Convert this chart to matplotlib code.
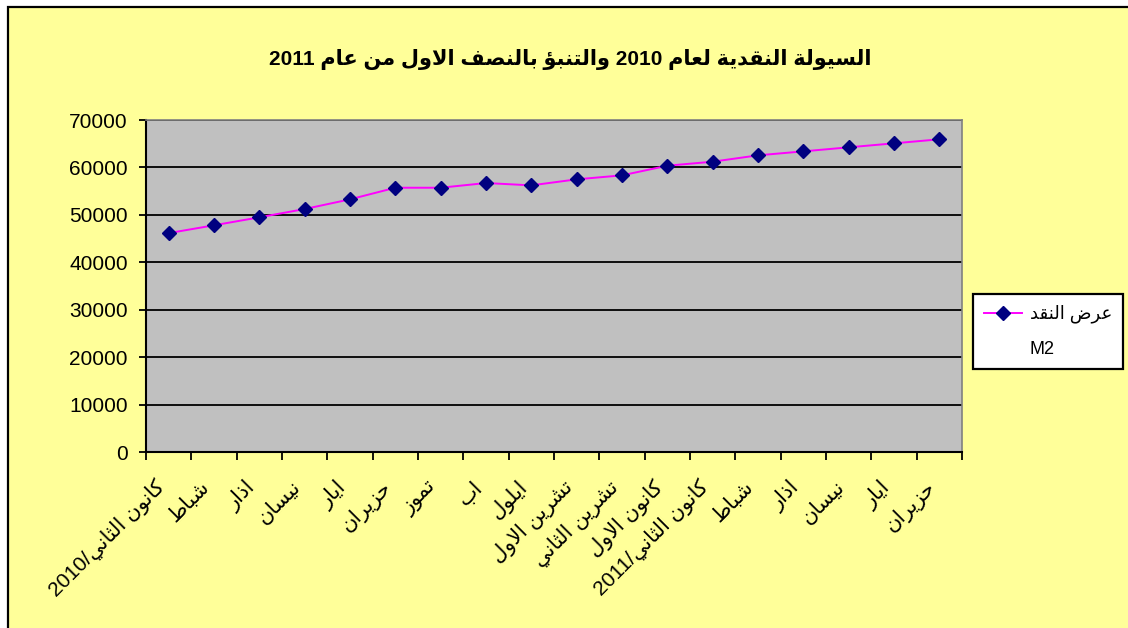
import re
import matplotlib
matplotlib.use('Agg')
import matplotlib.pyplot as plt
import matplotlib.transforms as mtransforms
from matplotlib.patches import Rectangle
from matplotlib.lines import Line2D


# chart data (logical Arabic text)
TITLE = 'السيولة النقدية لعام 2010 والتنبؤ بالنصف الاول من عام 2011'
SERIES_NAME = 'عرض النقد'
SERIES_SUFFIX = 'M2'
months = ['كانون الثاني/2010', 'شباط', 'اذار', 'نيسان', 'ايار', 'حزيران',
          'تموز', 'اب', 'ايلول', 'تشرين الاول', 'تشرين الثاني', 'كانون الاول',
          'كانون الثاني/2011', 'شباط', 'اذار', 'نيسان', 'ايار', 'حزيران']
m2 = [46150, 47800, 49480, 51230, 53270, 55720, 55720, 56710, 56220,
      57490, 58330, 60360, 61210, 62550, 63390, 64240, 65080, 65930]
y_ticks = [0, 10000, 20000, 30000, 40000, 50000, 60000, 70000]


# --- minimal arabic shaping (matplotlib has no text shaping / bidi) ---
# base codepoint in Presentation Forms-B, number of forms (2 = right joining, 4 = dual)
AR = {
    'ء': (0xFE80, 1), 'آ': (0xFE81, 2), 'أ': (0xFE83, 2), 'ؤ': (0xFE85, 2),
    'إ': (0xFE87, 2), 'ئ': (0xFE89, 4), 'ا': (0xFE8D, 2), 'ب': (0xFE8F, 4),
    'ة': (0xFE93, 2), 'ت': (0xFE95, 4), 'ث': (0xFE99, 4), 'ج': (0xFE9D, 4),
    'ح': (0xFEA1, 4), 'خ': (0xFEA5, 4), 'د': (0xFEA9, 2), 'ذ': (0xFEAB, 2),
    'ر': (0xFEAD, 2), 'ز': (0xFEAF, 2), 'س': (0xFEB1, 4), 'ش': (0xFEB5, 4),
    'ص': (0xFEB9, 4), 'ض': (0xFEBD, 4), 'ط': (0xFEC1, 4), 'ظ': (0xFEC5, 4),
    'ع': (0xFEC9, 4), 'غ': (0xFECD, 4), 'ف': (0xFED1, 4), 'ق': (0xFED5, 4),
    'ك': (0xFED9, 4), 'ل': (0xFEDD, 4), 'م': (0xFEE1, 4), 'ن': (0xFEE5, 4),
    'ه': (0xFEE9, 4), 'و': (0xFEED, 2), 'ى': (0xFEEF, 2), 'ي': (0xFEF1, 4),
}
LAM_ALEF = {'ا': 0xFEFB, 'أ': 0xFEF7, 'إ': 0xFEF9, 'آ': 0xFEF5}


def shape(text):
    out = []
    prev_dual = False
    i = 0
    while i < len(text):
        c = text[i]
        nxt = text[i + 1] if i + 1 < len(text) else ''
        if c == 'ل' and nxt in LAM_ALEF:
            out.append(chr(LAM_ALEF[nxt] + (1 if prev_dual else 0)))
            prev_dual = False
            i += 2
            continue
        if c not in AR:
            out.append(c)
            prev_dual = False
            i += 1
            continue
        base, n = AR[c]
        joins_next = n == 4 and nxt in AR
        if n == 1:
            form = 0
        elif prev_dual and joins_next:
            form = 3
        elif prev_dual:
            form = 1
        elif joins_next:
            form = 2
        else:
            form = 0
        out.append(chr(base + form))
        prev_dual = n == 4
        i += 1
    return ''.join(out)


def rtl(text):
    # shape, then reverse into visual order keeping digit/latin runs left-to-right
    s = shape(text)[::-1]
    return re.sub(r'[0-9A-Za-z]+', lambda m: m.group(0)[::-1], s)


plt.rcParams['font.family'] = ['Liberation Sans', 'DejaVu Sans']

YELLOW = '#FFFF99'
W, H = 1128, 628
fig = plt.figure(figsize=(W / 100, H / 100), dpi=100, facecolor='white')

# yellow chart area with black frame (right/bottom edges lie outside the picture)
fig.patches.append(Rectangle((8 / W, -0.1), 1.2, 1 - 7 / H + 0.1, transform=fig.transFigure,
                             facecolor=YELLOW, edgecolor='black', lw=1.6, zorder=-5))

ax = fig.add_axes([146 / W, 1 - 452 / H, (962 - 146) / W, (452 - 120) / H])
ax.set_facecolor('#C0C0C0')

x = [i + 0.5 for i in range(len(m2))]
line, = ax.plot(x, m2, color='#FF00FF', lw=1.4, marker='D', markersize=7,
                markerfacecolor='#000080', markeredgecolor='#000080', zorder=3)

ax.set_xlim(0, len(m2))
ax.set_ylim(0, 70000)
ax.set_yticks(y_ticks)
ax.set_yticklabels([str(v) for v in y_ticks], fontsize=15)
for v in y_ticks[1:]:
    ax.axhline(v, color='black', lw=1.3, zorder=1)

ax.set_xticks(range(len(m2) + 1))
ax.set_xticklabels([])
ax.set_xticks(x, minor=True)
ax.set_xticklabels([rtl(m) for m in months], minor=True, fontsize=15, rotation=45,
                   ha='right', va='top', rotation_mode='anchor')
ax.tick_params(axis='x', which='major', direction='out', length=6, width=1.3, color='black')
ax.tick_params(axis='x', which='minor', length=0, pad=18)
ax.tick_params(axis='y', direction='out', length=5, width=1.3, pad=8, color='black')
shift = mtransforms.ScaledTranslation(-14 / 100, 0, fig.dpi_scale_trans)
for lab in ax.get_xticklabels(minor=True):
    lab.set_transform(lab.get_transform() + shift)

for side in ['left', 'bottom']:
    ax.spines[side].set_color('black')
    ax.spines[side].set_linewidth(1.5)
for side in ['top', 'right']:
    ax.spines[side].set_color('#808080')
    ax.spines[side].set_linewidth(1.2)

fig.text(570 / W, 1 - 60 / H, rtl(TITLE), ha='center', va='center',
         fontsize=15, fontweight='bold')

blank = Line2D([], [], linestyle='none')
leg = ax.legend([line, blank], [rtl(SERIES_NAME), SERIES_SUFFIX],
                loc='upper left', bbox_to_anchor=(973 / W, 1 - 294 / H),
                bbox_transform=fig.transFigure, borderaxespad=0, fancybox=False,
                framealpha=1, facecolor='white', edgecolor='black', fontsize=13,
                handlelength=2.1, handletextpad=0.45, borderpad=0.6, labelspacing=1.0)
leg.get_frame().set_linewidth(1.6)

fig.savefig('out.png', dpi=100, facecolor=fig.get_facecolor())
